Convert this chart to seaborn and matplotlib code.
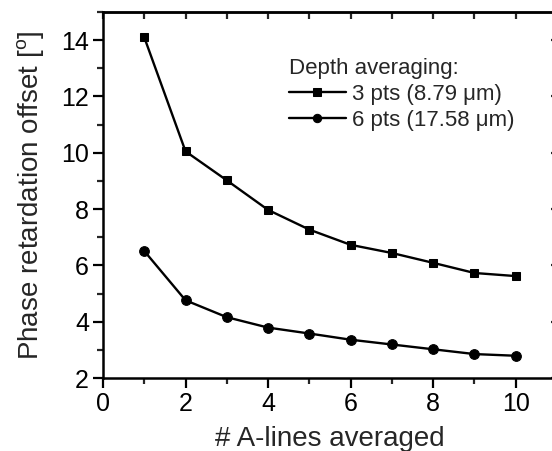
import numpy as np
import pandas as pd
import matplotlib
matplotlib.use("Agg")
import matplotlib.pyplot as plt
import seaborn as sns
from matplotlib.ticker import MultipleLocator, NullFormatter, NullLocator

n_alines = [1, 2, 3, 4, 5, 6, 7, 8, 9, 10]
offset_3pts = [14.1, 10.05, 9.02, 7.97, 7.27, 6.73, 6.44, 6.09, 5.73, 5.62]
offset_6pts = [6.51, 4.76, 4.16, 3.79, 3.58, 3.36, 3.19, 3.02, 2.85, 2.79]
labels = ["3 pts (8.79 \u03bcm)", "6 pts (17.58 \u03bcm)"]

sns.set_style("ticks")
plt.rcParams["font.family"] = ["Liberation Sans", "DejaVu Sans"]
plt.rcParams["mathtext.fontset"] = "custom"
plt.rcParams["mathtext.rm"] = "Liberation Sans"

fig = plt.figure(figsize=(5.52, 4.51), dpi=100)
ax = fig.add_axes([103 / 552, 73 / 451, 454 / 552, 366 / 451])

df3 = pd.DataFrame({"x": n_alines, "y": offset_3pts})
df6 = pd.DataFrame({"x": n_alines, "y": offset_6pts})
sns.lineplot(data=df3, x="x", y="y", ax=ax, color="black", lw=1.7,
             marker="s", markersize=6, markeredgecolor="black", label=labels[0])
sns.lineplot(data=df6, x="x", y="y", ax=ax, color="black", lw=1.7,
             marker="o", markersize=7, markeredgecolor="black", label=labels[1])

ax.set_xlim(0, 11)
ax.set_ylim(2, 15)
ax.xaxis.set_major_locator(MultipleLocator(2))
ax.xaxis.set_minor_locator(MultipleLocator(1))
ax.yaxis.set_major_locator(MultipleLocator(2))
ax.yaxis.set_minor_locator(MultipleLocator(1))

for s in ax.spines.values():
    s.set_linewidth(1.8)
    s.set_color("black")

ax.tick_params(which="major", direction="out", length=7, width=1.6,
               labelsize=18, colors="black", pad=3)
ax.tick_params(which="minor", direction="out", length=4, width=1.6)

# top ticks point inward, right ticks inward (major only)
top = ax.secondary_xaxis("top")
top.xaxis.set_major_locator(MultipleLocator(2))
top.xaxis.set_minor_locator(MultipleLocator(1))
top.xaxis.set_major_formatter(NullFormatter())
top.tick_params(which="both", direction="in", length=5, width=1.6)
top.spines["top"].set_linewidth(1.8)

right = ax.secondary_yaxis("right")
right.yaxis.set_major_locator(MultipleLocator(2))
right.yaxis.set_minor_locator(NullLocator())
right.yaxis.set_major_formatter(NullFormatter())
right.tick_params(which="both", direction="in", length=4, width=1.6)

ax.set_xlabel("# A-lines averaged", fontsize=20, labelpad=7)
ax.set_ylabel("Phase retardation offset [$^{\\mathrm{o}}$]", fontsize=20, labelpad=10)

leg = ax.legend(title="Depth averaging:", loc="upper left",
                bbox_to_anchor=(0.405, 0.88), frameon=False, fontsize=16,
                title_fontsize=16, handlelength=2.55, handletextpad=0.3,
                labelspacing=0.22, borderpad=0.1, borderaxespad=0)
leg._legend_box.align = "left"
for h in leg.legend_handles:
    h.set_markersize(6)

fig.savefig("out.png", dpi=100)
